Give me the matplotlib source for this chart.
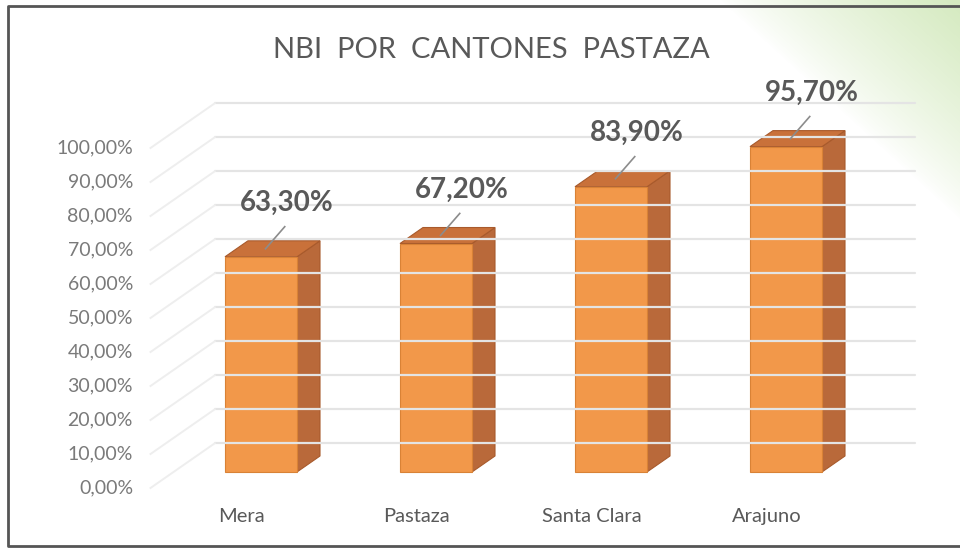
import numpy as np
import matplotlib
matplotlib.use("Agg")
import matplotlib.pyplot as plt
from matplotlib.patches import Polygon

plt.rcParams['font.family'] = ['Lato', 'DejaVu Sans']

# data
cantones = ['Mera', 'Pastaza', 'Santa Clara', 'Arajuno']
nbi = [63.3, 67.2, 83.9, 95.7]
ticks = [0, 10, 20, 30, 40, 50, 60, 70, 80, 90, 100]
etiquetas = ['63,30%', '67,20%', '83,90%', '95,70%']
titulo = 'NBI  POR  CANTONES  PASTAZA'

# pseudo 3d look
W, H = 960, 549
PX_X = 175.0   # pixels per category
PX_Y = 3.4     # pixels per percent
X0, Y0 = 261.0, 472.0  # pixel of category 0, value 0 on bar front plane
DX = 23.0 / PX_X       # shift per depth unit (x, categories)
DY = 16.0 / PX_Y       # shift per depth unit (y, percent)
BAR_W = 72.0 / PX_X
BACK = 1.8
FRONT = -1.0

front_col = '#F2984A'
side_col = '#B9693A'
top_col = '#C9713A'
edge_col = '#A85A2C'
grid_col = '#E4E4E4'
text_col = '#595959'


def proj(x, v, d):
    return x + d * DX, v + d * DY


fig = plt.figure(figsize=(W / 100, H / 100), dpi=100)

# background with the soft green corner
bg = fig.add_axes([0, 0, 1, 1])
yy, xx = np.mgrid[0:H, 0:W]
t = np.clip((xx - 720) / 230.0 - yy / 210.0, 0, 1) ** 0.8
img = np.ones((H, W, 3))
green = np.array([0.84, 0.92, 0.76])
for c in range(3):
    img[..., c] = 1 - t * (1 - green[c])
bg.imshow(img, extent=[0, W, H, 0], aspect='auto')
bg.set_xlim(0, W)
bg.set_ylim(H, 0)
bg.axis('off')
# frame: left, top and bottom only
bg.plot([W, 8, 8, W], [6, 6, 546, 546], color='#555555', lw=2)

ax = fig.add_axes([0, 0, 1, 1])
ax.patch.set_alpha(0)
ax.set_xlim(-X0 / PX_X, (W - X0) / PX_X)
ax.set_ylim(-(H - Y0) / PX_Y, Y0 / PX_Y)
ax.axis('off')

# gridlines on back wall and side wall
for g in ticks:
    bx0, by0 = proj(-0.5, g, BACK)
    bx1, by1 = proj(3.5, g, BACK)
    fx, fy = proj(-0.5, g, FRONT)
    ax.plot([bx0, bx1], [by0, by1], color=grid_col, lw=1.6, solid_capstyle='round')
    ax.plot([fx, bx0], [fy, by0], color='#EEEEEE', lw=1.4)
    ax.text(fx - 0.1, fy, f'{g},00%', ha='right', va='center',
            fontsize=14, color='#7A7A7A')

# bars
for i, (name, v, lab) in enumerate(zip(cantones, nbi, etiquetas)):
    x0, x1 = i - BAR_W / 2, i + BAR_W / 2
    side = [proj(x1, 0, 0), proj(x1, v, 0), proj(x1, v, 1), proj(x1, 0, 1)]
    top = [proj(x0, v, 0), proj(x1, v, 0), proj(x1, v, 1), proj(x0, v, 1)]
    front = [proj(x0, 0, 0), proj(x1, 0, 0), proj(x1, v, 0), proj(x0, v, 0)]
    ax.add_patch(Polygon(side, closed=True, facecolor=side_col, edgecolor=edge_col, lw=0.8))
    ax.add_patch(Polygon(top, closed=True, facecolor=top_col, edgecolor=edge_col, lw=0.8))
    ax.add_patch(Polygon(front, closed=True, facecolor=front_col, edgecolor='#D98236', lw=0.8))

    # value label with leader line
    cx, cy = proj(i, v, 0.5)
    ax.plot([cx - 0.04, cx + 0.07], [cy, cy + 6.5], color='#8C8C8C', lw=1.2)
    ax.text(cx + 0.08, cy + 13.5, lab, ha='center', va='center', fontsize=20,
            fontweight='bold', color=text_col)

    # category label
    tx, ty = proj(i, -8.5, FRONT)
    ax.text(tx + 0.02, ty, name, ha='center', va='center', fontsize=14.5, color=text_col)

fig.text(491 / W, 1 - 50 / H, titulo, ha='center', va='center', fontsize=21, color=text_col)

fig.savefig('out.png', dpi=100)
